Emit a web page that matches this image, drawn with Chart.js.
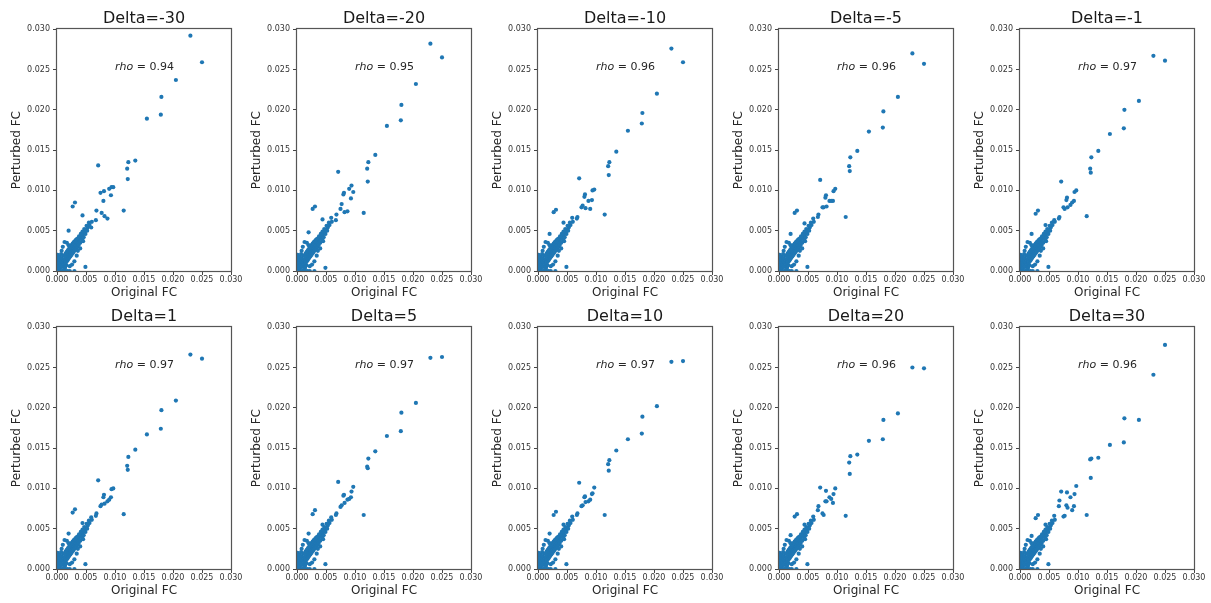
<!DOCTYPE html>
<html>
<head>
<meta charset="utf-8">
<title>Perturbed vs original FC</title>
<script src="https://cdn.jsdelivr.net/npm/chart.js@4.4.0/dist/chart.umd.min.js"></script>
<style>
  html, body { margin: 0; padding: 0; background: #fff; }
  #grid { position: relative; width: 1211px; height: 603px; overflow: hidden; }
  #grid canvas { position: absolute; }
</style>
</head>
<body>
<div id="grid"></div>
<script>
(function () {
    'use strict';

    const DELTAS = [-30, -20, -10, -5, -1, 1, 5, 10, 20, 30];
    const RHO = [0.94, 0.95, 0.96, 0.96, 0.97, 0.97, 0.97, 0.97, 0.96, 0.96];
    const AXIS_TICKS = [0, 0.005, 0.010, 0.015, 0.020, 0.025, 0.030];
    const RHO_AT = [0.010, 0.025];

    // features that stand apart from the bulk; same Original FC in every run
    const ORIGINAL_FC = [0.0230, 0.0250, 0.0205, 0.0180, 0.0179, 0.0155, 0.0135, 0.0123, 0.0121, 0.0122,
        0.0115, 0.0071, 0.0097, 0.0094, 0.0081, 0.0080, 0.0093, 0.0087, 0.0077, 0.0082,
        0.0068, 0.0067, 0.0059, 0.0044, 0.0027, 0.0031, 0.0020, 0.0049, 0.0075, 0.0090];

    const PERTURBED_N30 = [0.0292, 0.0259, 0.0237, 0.0216, 0.0194, 0.0189, 0.0137, 0.0135, 0.0127, 0.0114,
        0.0075, 0.0131, 0.0104, 0.0104, 0.0099, 0.0087, 0.0094, 0.0065, 0.0072, 0.0068,
        0.0075, 0.0063, 0.0054, 0.0069, 0.0080, 0.0085, 0.0050, 0.0005, 0.0097, 0.0102];
    const PERTURBED_N20 = [0.0282, 0.0265, 0.0232, 0.0206, 0.0187, 0.0180, 0.0144, 0.0135, 0.0127, 0.0111,
        0.0072, 0.0123, 0.0098, 0.0106, 0.0097, 0.0095, 0.0090, 0.0074, 0.0083, 0.0073,
        0.0070, 0.0063, 0.0066, 0.0064, 0.0077, 0.0080, 0.0048, 0.0004, 0.0077, 0.0102];
    const PERTURBED_N10 = [0.0276, 0.0259, 0.0220, 0.0196, 0.0183, 0.0174, 0.0148, 0.0135, 0.0130, 0.0119,
        0.0070, 0.0115, 0.0101, 0.0100, 0.0095, 0.0092, 0.0088, 0.0087, 0.0081, 0.0078,
        0.0067, 0.0065, 0.0066, 0.0060, 0.0073, 0.0076, 0.0046, 0.0005, 0.0079, 0.0077];
    const PERTURBED_N5 = [0.0270, 0.0257, 0.0216, 0.0198, 0.0178, 0.0173, 0.0149, 0.0141, 0.0130, 0.0124,
        0.0067, 0.0113, 0.0102, 0.0099, 0.0094, 0.0091, 0.0087, 0.0087, 0.0079, 0.0080,
        0.0070, 0.0067, 0.0065, 0.0059, 0.0072, 0.0075, 0.0046, 0.0005, 0.0079, 0.0087];
    const PERTURBED_N1 = [0.0267, 0.0261, 0.0211, 0.0200, 0.0177, 0.0170, 0.0149, 0.0141, 0.0127, 0.0122,
        0.0068, 0.0111, 0.0100, 0.0098, 0.0091, 0.0088, 0.0087, 0.0082, 0.0077, 0.0079,
        0.0067, 0.0065, 0.0063, 0.0057, 0.0071, 0.0075, 0.0046, 0.0005, 0.0079, 0.0085];
    const PERTURBED_P1 = [0.0266, 0.0261, 0.0209, 0.0197, 0.0174, 0.0167, 0.0148, 0.0139, 0.0128, 0.0123,
        0.0068, 0.0110, 0.0100, 0.0099, 0.0092, 0.0089, 0.0089, 0.0084, 0.0080, 0.0081,
        0.0069, 0.0066, 0.0064, 0.0057, 0.0070, 0.0074, 0.0044, 0.0006, 0.0078, 0.0086];
    const PERTURBED_P5 = [0.0262, 0.0263, 0.0206, 0.0194, 0.0171, 0.0165, 0.0146, 0.0137, 0.0127, 0.0125,
        0.0067, 0.0108, 0.0102, 0.0096, 0.0092, 0.0091, 0.0089, 0.0086, 0.0079, 0.0082,
        0.0069, 0.0067, 0.0064, 0.0055, 0.0068, 0.0073, 0.0044, 0.0006, 0.0077, 0.0087];
    const PERTURBED_P10 = [0.0257, 0.0258, 0.0202, 0.0189, 0.0168, 0.0161, 0.0147, 0.0135, 0.0130, 0.0122,
        0.0067, 0.0107, 0.0101, 0.0094, 0.0090, 0.0089, 0.0093, 0.0084, 0.0079, 0.0083,
        0.0069, 0.0067, 0.0065, 0.0055, 0.0067, 0.0071, 0.0044, 0.0006, 0.0078, 0.0086];
    const PERTURBED_P20 = [0.0250, 0.0249, 0.0193, 0.0185, 0.0161, 0.0159, 0.0142, 0.0140, 0.0132, 0.0118,
        0.0066, 0.0101, 0.0100, 0.0093, 0.0097, 0.0084, 0.0082, 0.0089, 0.0067, 0.0084,
        0.0078, 0.0073, 0.0065, 0.0055, 0.0065, 0.0068, 0.0042, 0.0006, 0.0069, 0.0087];
    const PERTURBED_P30 = [0.0241, 0.0278, 0.0185, 0.0187, 0.0157, 0.0154, 0.0138, 0.0137, 0.0136, 0.0113,
        0.0067, 0.0096, 0.0103, 0.0093, 0.0095, 0.0079, 0.0078, 0.0089, 0.0066, 0.0076,
        0.0085, 0.0078, 0.0066, 0.0055, 0.0063, 0.0067, 0.0041, 0.0006, 0.0065, 0.0073];

    // dense bulk near the origin, practically unchanged between runs
    const CORE_ORIGINAL = [0.0000, 0.0001, 0.0001, 0.0001, 0.0001, 0.0001, 0.0002, 0.0003, 0.0003, 0.0004,
        0.0004, 0.0005, 0.0006, 0.0007, 0.0007, 0.0008, 0.0009, 0.0010, 0.0011, 0.0012,
        0.0003, 0.0006, 0.0009, 0.0012, 0.0015, 0.0018, 0.0022, 0.0030, 0.0014, 0.0013, 0.0016,
        0.0014, 0.0016, 0.0018, 0.0020, 0.0022, 0.0024, 0.0026, 0.0028, 0.0030, 0.0032,
        0.0034, 0.0036, 0.0038, 0.0040, 0.0042, 0.0044, 0.0046, 0.0048, 0.0050, 0.0053, 0.0056, 0.0060,
        0.0013, 0.0015, 0.0017, 0.0019, 0.0021, 0.0023, 0.0025, 0.0027, 0.0029, 0.0031,
        0.0033, 0.0035, 0.0038, 0.0041, 0.0044, 0.0047, 0.0051, 0.0055,
        0.0015, 0.0017, 0.0019, 0.0021, 0.0023, 0.0025, 0.0027, 0.0029, 0.0031, 0.0033,
        0.0035, 0.0037, 0.0040, 0.0043, 0.0046, 0.0049, 0.0052,
        0.0010, 0.0013, 0.0017, 0.0008, 0.0020, 0.0034, 0.0030, 0.0026, 0.0040, 0.0045, 0.0022, 0.0036];
    const CORE_PERTURBED = [0.0000, 0.0004, 0.0008, 0.0012, 0.0016, 0.0020, 0.0002, 0.0006, 0.0010, 0.0014,
        0.0018, 0.0003, 0.0008, 0.0012, 0.0021, 0.0016, 0.0005, 0.0010, 0.0019, 0.0014,
        0.0000, 0.0000, 0.0000, 0.0001, 0.0000, 0.0000, 0.0000, 0.0000, 0.0004, 0.0008, 0.0007,
        0.0014, 0.0017, 0.0019, 0.0021, 0.0023, 0.0025, 0.0027, 0.0029, 0.0031, 0.0033,
        0.0035, 0.0037, 0.0039, 0.0041, 0.0043, 0.0045, 0.0047, 0.0049, 0.0051, 0.0054, 0.0057, 0.0061,
        0.0019, 0.0022, 0.0024, 0.0026, 0.0028, 0.0030, 0.0032, 0.0034, 0.0036, 0.0037,
        0.0039, 0.0040, 0.0043, 0.0046, 0.0049, 0.0052, 0.0056, 0.0060,
        0.0010, 0.0012, 0.0014, 0.0016, 0.0018, 0.0020, 0.0022, 0.0024, 0.0026, 0.0028,
        0.0030, 0.0032, 0.0035, 0.0039, 0.0042, 0.0046, 0.0050,
        0.0030, 0.0036, 0.0035, 0.0025, 0.0032, 0.0019, 0.0012, 0.0008, 0.0028, 0.0037, 0.0006, 0.0025];

    const PERTURBED = [PERTURBED_N30, PERTURBED_N20, PERTURBED_N10, PERTURBED_N5, PERTURBED_N1,
        PERTURBED_P1, PERTURBED_P5, PERTURBED_P10, PERTURBED_P20, PERTURBED_P30];

    // page layout of the 2 x 5 grid
    const PLOT_LEFT = [57, 297, 538, 779, 1020];
    const CANVAS_TOP = [0, 298];
    const Y_AXIS_W = 57;
    const PLOT_W = 174;
    const CANVAS_W = 248;
    const CANVAS_H = 300;

    const FAMILY = "'DejaVu Sans', sans-serif";
    const tickFont = { family: FAMILY, size: 8 };
    const labelFont = { family: FAMILY, size: 12 };
    const DOT = '#1f77b4';
    const INK = '#262626';

    const framePlugin = {
        id: 'frame',
        afterDatasetsDraw(chart) {
            const a = chart.chartArea;
            const ctx = chart.ctx;
            ctx.save();
            ctx.strokeStyle = '#555';
            ctx.lineWidth = 1.2;
            ctx.strokeRect(Math.round(a.left) - 0.5, Math.round(a.top) - 0.5,
                Math.round(a.right - a.left) + 1, Math.round(a.bottom - a.top) + 1);
            ctx.restore();
        },
    };

    const rhoPlugin = {
        id: 'rhoLabel',
        afterDatasetsDraw(chart, args, opts) {
            const ctx = chart.ctx;
            const x = chart.scales.x.getPixelForValue(RHO_AT[0]);
            const y = chart.scales.y.getPixelForValue(RHO_AT[1]);
            ctx.save();
            ctx.fillStyle = INK;
            ctx.textBaseline = 'alphabetic';
            ctx.textAlign = 'left';
            ctx.font = 'italic 11px ' + FAMILY;
            ctx.fillText('rho', x, y);
            const cx = x + ctx.measureText('rho').width;
            ctx.font = '11px ' + FAMILY;
            ctx.fillText(' = ' + opts.value.toFixed(2), cx, y);
            ctx.restore();
        },
    };

    function axis(pos, title, titlePadding) {
        const horizontal = pos === 'bottom';
        return {
            type: 'linear',
            position: pos,
            min: 0,
            max: 0.03,
            afterBuildTicks: (s) => { s.ticks = AXIS_TICKS.map((v) => ({ value: v })); },
            afterFit: (s) => {
                if (horizontal) {
                    s.height = 29;
                    s.paddingLeft = 0;
                    s.paddingRight = 0;
                } else {
                    s.width = Y_AXIS_W;
                    s.paddingTop = 0;
                    s.paddingBottom = 0;
                }
            },
            grid: {
                display: true,
                drawOnChartArea: false,
                drawTicks: true,
                tickLength: 4,
                tickColor: '#444',
                tickWidth: 1,
            },
            border: { display: false },
            ticks: {
                font: tickFont,
                color: '#333',
                padding: horizontal ? 0 : 3,
                autoSkip: false,
                maxRotation: 0,
                minRotation: 0,
                callback: (v) => Number(v).toFixed(3),
            },
            title: {
                display: true,
                text: title,
                font: labelFont,
                color: INK,
                padding: titlePadding,
            },
        };
    }

    function makePanel(i) {
        const row = Math.floor(i / 5);
        const col = i % 5;
        const canvas = document.createElement('canvas');
        canvas.width = CANVAS_W;
        canvas.height = CANVAS_H;
        canvas.style.left = (PLOT_LEFT[col] - Y_AXIS_W) + 'px';
        canvas.style.top = CANVAS_TOP[row] + 'px';
        canvas.style.width = CANVAS_W + 'px';
        canvas.style.height = CANVAS_H + 'px';
        document.getElementById('grid').appendChild(canvas);

        const points = CORE_ORIGINAL.map((x, k) => ({ x: x, y: CORE_PERTURBED[k] }))
            .concat(ORIGINAL_FC.map((x, k) => ({ x: x, y: PERTURBED[i][k] })));

        new Chart(canvas, {
            type: 'scatter',
            data: {
                datasets: [{
                    data: points,
                    backgroundColor: DOT,
                    borderWidth: 0,
                    pointRadius: 2.1,
                    pointHoverRadius: 2.1,
                    clip: 0,
                }],
            },
            options: {
                responsive: false,
                animation: false,
                devicePixelRatio: 1,
                events: [],
                layout: {
                    padding: { left: 0, top: 0, bottom: 0, right: CANVAS_W - Y_AXIS_W - PLOT_W },
                },
                plugins: {
                    legend: { display: false },
                    tooltip: { enabled: false },
                    title: {
                        display: true,
                        fullSize: false,
                        text: 'Delta=' + DELTAS[i],
                        font: { family: FAMILY, size: 16, weight: 'normal' },
                        color: '#1a1a1a',
                        padding: { top: 9, bottom: 1 },
                    },
                    rhoLabel: { value: RHO[i] },
                },
                scales: {
                    x: axis('bottom', 'Original FC', { top: 0, bottom: 0 }),
                    y: axis('left', 'Perturbed FC', { top: 10, bottom: 0 }),
                },
            },
            plugins: [framePlugin, rhoPlugin],
        });
    }

    document.addEventListener('DOMContentLoaded', function () {
        for (let i = 0; i < DELTAS.length; i++) makePanel(i);
    });
})();
</script>
</body>
</html>
